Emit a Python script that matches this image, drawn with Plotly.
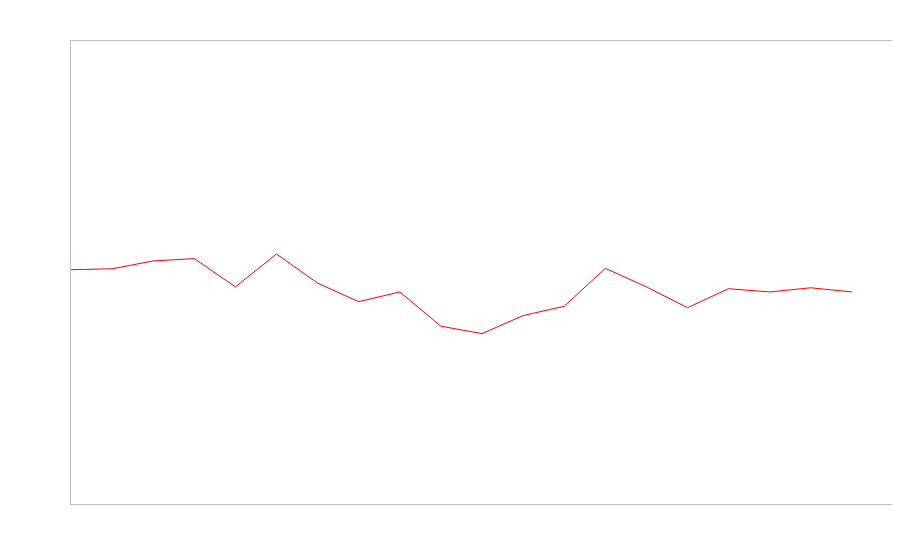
import plotly.graph_objects as go

x_index = list(range(20))
values = [50.6, 50.8, 52.5, 53.0, 46.9, 54.0, 47.7, 43.7, 45.8, 38.4,
          36.8, 40.7, 42.7, 50.9, 46.9, 42.4, 46.5, 45.8, 46.7, 45.8]

fig = go.Figure()
fig.add_trace(go.Scatter(x=x_index, y=values, mode="lines",
                         line=dict(color="#ff0000", width=1), showlegend=False,
                         hoverinfo="skip"))

axis_style = dict(showgrid=False, zeroline=False, showticklabels=False, ticks="",
                  showline=True, mirror="all", linecolor="#c0c0c0", linewidth=1)
fig.update_layout(
    width=886, height=530,
    margin=dict(l=63, r=1, t=33, b=34),
    paper_bgcolor="white", plot_bgcolor="white",
    xaxis=dict(range=[0, 20], **axis_style),
    yaxis=dict(range=[0, 100], **axis_style),
    shapes=[dict(type="line", xref="paper", yref="paper", x0=1, x1=1, y0=0, y1=1,
                 line=dict(color="#c0c0c0", width=1))],
)
fig.write_html("out.html")
